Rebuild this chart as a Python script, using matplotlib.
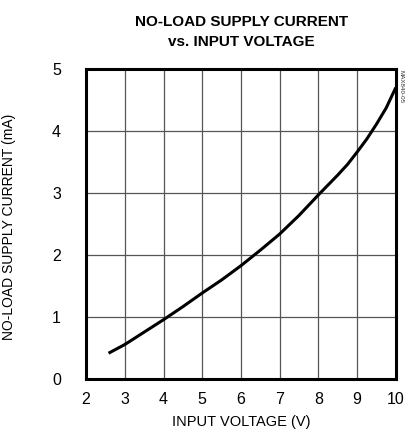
import matplotlib
matplotlib.use("Agg")
import matplotlib.pyplot as plt

plt.rcParams["font.family"] = ["Liberation Sans", "DejaVu Sans"]

voltage = [2.58, 3, 3.5, 4, 4.5, 5, 5.5, 6, 6.5, 7, 7.5, 8, 8.5, 8.75, 9, 9.25, 9.5, 9.75, 10]
current = [0.42, 0.56, 0.76, 0.96, 1.17, 1.39, 1.60, 1.83, 2.08, 2.34, 2.64, 2.97, 3.29, 3.46, 3.66, 3.87, 4.11, 4.37, 4.70]
xticks = [2, 3, 4, 5, 6, 7, 8, 9, 10]
yticks = [0, 1, 2, 3, 4, 5]

fig = plt.figure(figsize=(4.06, 4.33), dpi=100)
ax = fig.add_axes([0.212, 0.124, 0.763, 0.717])
ax.plot(voltage, current, color="black", lw=2.2, solid_capstyle="butt")
ax.set_xlim(2, 10)
ax.set_ylim(0, 5)
ax.set_xticks(xticks)
ax.set_yticks(yticks)
ax.grid(True, color="#555555", lw=0.9)
ax.set_axisbelow(True)
ax.tick_params(axis="x", length=0, labelsize=11.5, pad=9)
ax.tick_params(axis="y", length=0, labelsize=11.5, pad=18)
for s in ax.spines.values():
    s.set_linewidth(2.2)
ax.set_xlabel("INPUT VOLTAGE (V)", fontsize=10.5, labelpad=6)
ax.set_ylabel("NO-LOAD SUPPLY CURRENT (mA)", fontsize=10)
ax.yaxis.set_label_coords(-0.226, 0.49)
fig.text(0.594, 0.926, "NO-LOAD SUPPLY CURRENT\nvs. INPUT VOLTAGE", ha="center", va="center",
         fontsize=11, fontweight="bold", linespacing=1.5)
fig.text(0.988, 0.80, "MAX840-05", rotation=270, fontsize=4.5, ha="center", va="center", color="#333333")
fig.savefig("out.png", dpi=100)
